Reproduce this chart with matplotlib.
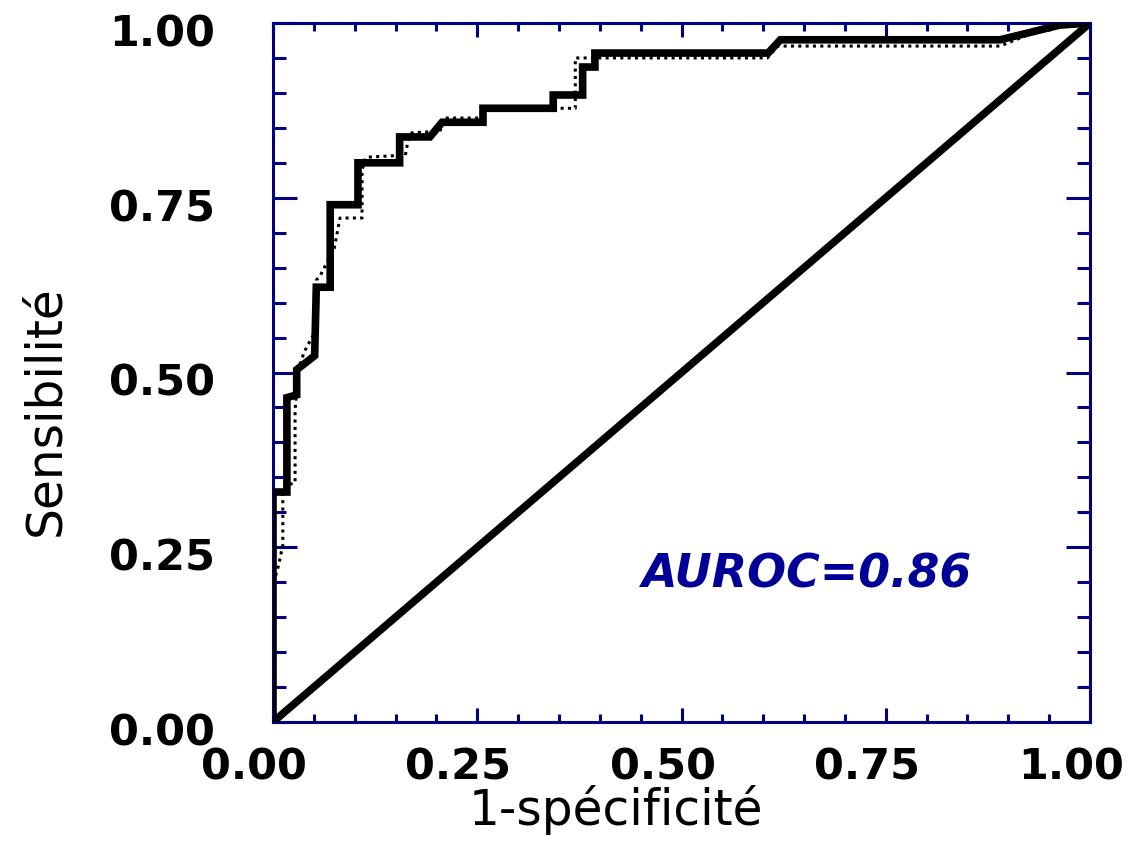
import matplotlib
matplotlib.use("Agg")
import matplotlib.pyplot as plt
from matplotlib.ticker import MultipleLocator
from matplotlib.transforms import ScaledTranslation

# ROC curve 1 (solid)
fpr_solid = [0.0, 0.0, 0.017, 0.017, 0.029, 0.029, 0.051, 0.053, 0.070, 0.070,
             0.104, 0.104, 0.155, 0.155, 0.192, 0.207, 0.257, 0.257, 0.343, 0.343,
             0.379, 0.379, 0.394, 0.394, 0.606, 0.621, 0.890, 0.963, 1.0]
tpr_solid = [0.0, 0.329, 0.329, 0.464, 0.468, 0.504, 0.524, 0.622, 0.622, 0.740,
             0.740, 0.800, 0.800, 0.837, 0.837, 0.858, 0.858, 0.878, 0.878, 0.897,
             0.897, 0.937, 0.937, 0.957, 0.957, 0.976, 0.976, 0.997, 1.0]

# ROC curve 2 (dotted)
fpr_dot = [0.0, 0.0, 0.007, 0.012, 0.012, 0.017, 0.027, 0.027, 0.031, 0.038,
           0.048, 0.053, 0.053, 0.058, 0.075, 0.082, 0.109, 0.109, 0.114, 0.162,
           0.165, 0.170, 0.204, 0.211, 0.256, 0.256, 0.370, 0.370, 0.605, 0.618,
           0.890, 0.960, 1.0]
tpr_dot = [0.0, 0.196, 0.225, 0.253, 0.328, 0.339, 0.342, 0.446, 0.504, 0.529,
           0.551, 0.558, 0.632, 0.639, 0.678, 0.721, 0.721, 0.790, 0.808, 0.811,
           0.830, 0.843, 0.845, 0.864, 0.864, 0.878, 0.878, 0.950, 0.950, 0.967,
           0.967, 1.0, 1.0]

# chance diagonal
diag = [0.0, 1.0]

tick_vals = [0.0, 0.25, 0.5, 0.75, 1.0]
tick_labels = ["0.00", "0.25", "0.50", "0.75", "1.00"]
auroc_text = "AUROC=0.86"

navy = "#000080"
txt_blue = "#000099"

plt.rcParams['font.family'] = ['DejaVu Sans']

fig = plt.figure(figsize=(11.31, 8.44), dpi=100)
ax = fig.add_axes([273/1131, 1-722/844, 817/1131, 699/844])

ax.plot(diag, diag, color="black", lw=5.5, solid_capstyle="butt", zorder=3)
ax.plot(fpr_solid, tpr_solid, color="black", lw=5.5, solid_joinstyle="miter", zorder=3)
ax.plot(fpr_dot, tpr_dot, color="black", lw=2.2, linestyle=(0, (1, 1.4)), zorder=4)

ax.set_xlim(0, 1)
ax.set_ylim(0, 1)

for s in ax.spines.values():
    s.set_color(navy)
    s.set_linewidth(2.2)

ax.xaxis.set_minor_locator(MultipleLocator(0.05))
ax.yaxis.set_minor_locator(MultipleLocator(0.05))
ax.set_xticks(tick_vals)
ax.set_xticklabels(tick_labels)
ax.set_yticks(tick_vals)
ax.set_yticklabels(tick_labels)

ax.tick_params(axis='both', which='both', direction='in', color=navy, width=2.2,
               top=True, right=True)
ax.tick_params(axis='x', which='major', length=10, pad=18, labelsize=31)
ax.tick_params(axis='x', which='minor', length=5.5)
ax.tick_params(axis='y', which='major', length=17, pad=42, labelsize=31)
ax.tick_params(axis='y', which='minor', length=9.5)

xoff = ScaledTranslation(-19/100, 0, fig.dpi_scale_trans)
yoff = ScaledTranslation(0, -7/100, fig.dpi_scale_trans)
for lab in ax.get_xticklabels():
    lab.set_fontweight('bold')
    lab.set_transform(lab.get_transform() + xoff)
for lab in ax.get_yticklabels():
    lab.set_fontweight('bold')
    lab.set_transform(lab.get_transform() + yoff)

ax.set_xlabel("1-spécificité", fontsize=35)
ax.xaxis.set_label_coords(0.42, -0.126)
ax.xaxis.label.set_va('center')
ax.set_ylabel("Sensibilité", fontsize=35)
ax.yaxis.set_label_coords(-0.279, 0.446)
ax.yaxis.label.set_va('center')

ax.text(0.654, 0.210, auroc_text, color=txt_blue, fontsize=33, fontweight='bold',
        fontstyle='italic', ha='center', va='center', transform=ax.transData)

fig.savefig("out.png", dpi=100)
